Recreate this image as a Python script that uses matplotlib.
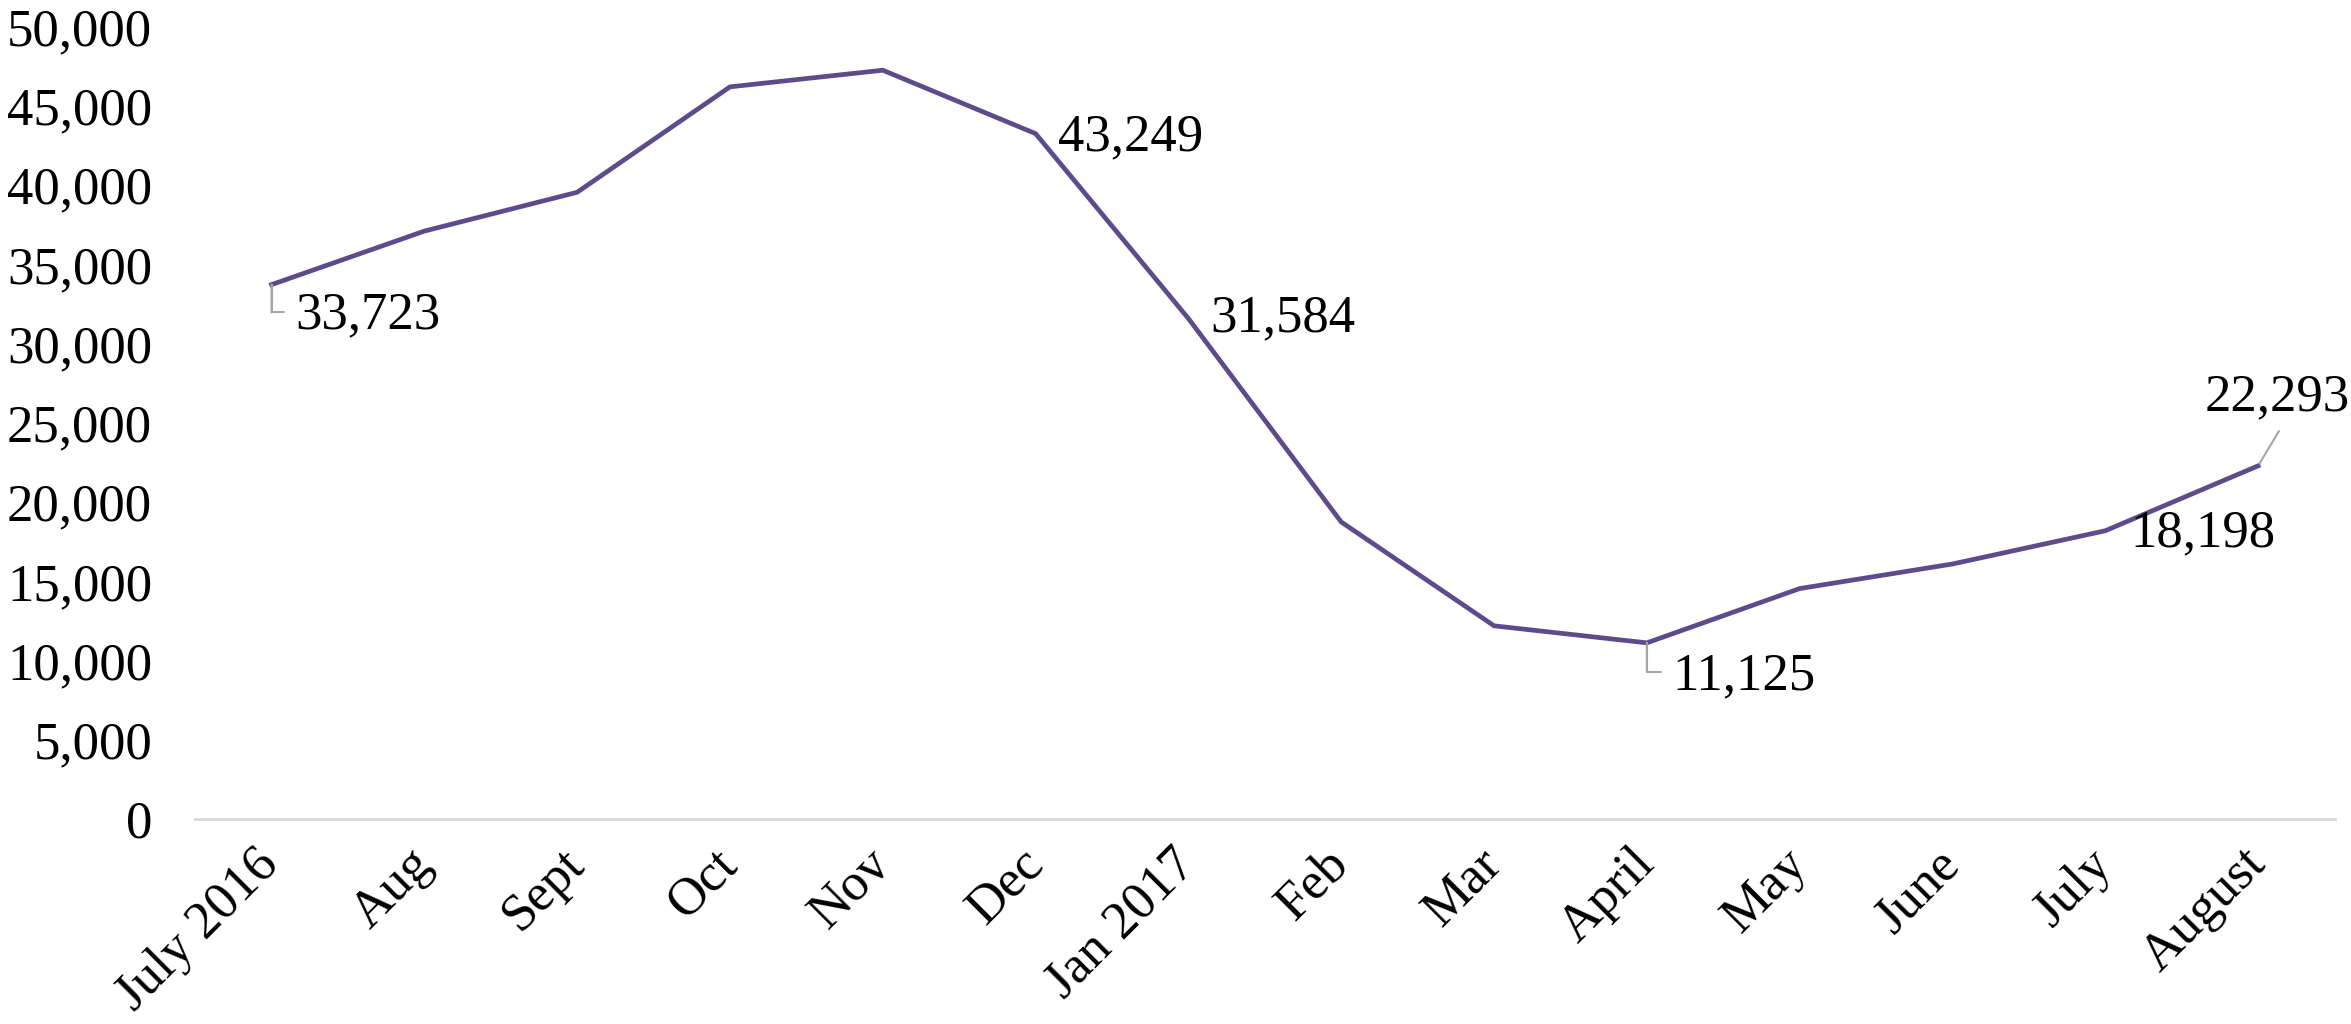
import matplotlib
matplotlib.use("Agg")
import matplotlib.pyplot as plt
from matplotlib.ticker import FuncFormatter, MultipleLocator

categories = ["July 2016", "Aug", "Sept", "Oct", "Nov", "Dec", "Jan 2017",
              "Feb", "Mar", "April", "May", "June", "July", "August"]
values = [33723, 37100, 39550, 46200, 47250, 43249, 31584,
          18750, 12200, 11125, 14550, 16100, 18198, 22293]

plt.rcParams['font.family'] = ['Liberation Serif', 'DejaVu Serif']

FS = 38
fig = plt.figure(figsize=(23.51, 10.24), dpi=100)
ax = fig.add_axes([0.083, 0.2, 0.91, 0.774])

x = list(range(len(categories)))
ax.plot(x, values, color="#5F4B8B", lw=3.4, solid_joinstyle="miter", zorder=3)

ax.set_xlim(-0.5, len(categories) - 0.5)
ax.set_ylim(0, 50000)
ax.yaxis.set_major_locator(MultipleLocator(5000))
ax.yaxis.set_major_formatter(FuncFormatter(lambda v, p: f"{int(v):,}"))
ax.set_xticks(x)
ax.set_xticklabels(categories, rotation=45, ha="right", va="center",
                   rotation_mode="anchor")
ax.tick_params(axis="x", length=0, pad=27, labelsize=FS)
ax.tick_params(axis="y", length=0, pad=31, labelsize=FS)

for s in ["top", "right", "left"]:
    ax.spines[s].set_visible(False)
ax.spines["bottom"].set_color("#D9D9D9")
ax.spines["bottom"].set_linewidth(2)

GRAY = "#A6A6A6"

def label(i, dx, dy, ha="left"):
    ax.annotate(f"{values[i]:,}", (x[i], values[i]), xytext=(dx, dy),
                textcoords="offset points", ha=ha, va="center", fontsize=FS,
                zorder=4)

def elbow(i, down, right):
    # vertical segment down from the point, then horizontal to the right
    ax.annotate("", (x[i], values[i]), xytext=(0, -down),
                textcoords="offset points",
                arrowprops=dict(arrowstyle="-", color=GRAY, lw=1.5,
                                shrinkA=0, shrinkB=0))
    ax.annotate("", (x[i], values[i]), xytext=(right, -down),
                textcoords="offset points",
                arrowprops=dict(arrowstyle="-", color=GRAY, lw=1.5,
                                connectionstyle="angle,angleA=0,angleB=90,rad=0",
                                shrinkA=0, shrinkB=0))

label(0, 17, -22)
elbow(0, 20, 9)
label(5, 16, -3)
label(6, 16, 0)
label(9, 18, -24)
elbow(9, 21, 10)
label(12, 18, -2)
label(13, 14, 49, ha="center")
ax.annotate("", (x[13], values[13]), xytext=(15, 25),
            textcoords="offset points",
            arrowprops=dict(arrowstyle="-", color=GRAY, lw=1.5,
                            shrinkA=0, shrinkB=2))

fig.savefig("out.png", dpi=100, facecolor="white")
